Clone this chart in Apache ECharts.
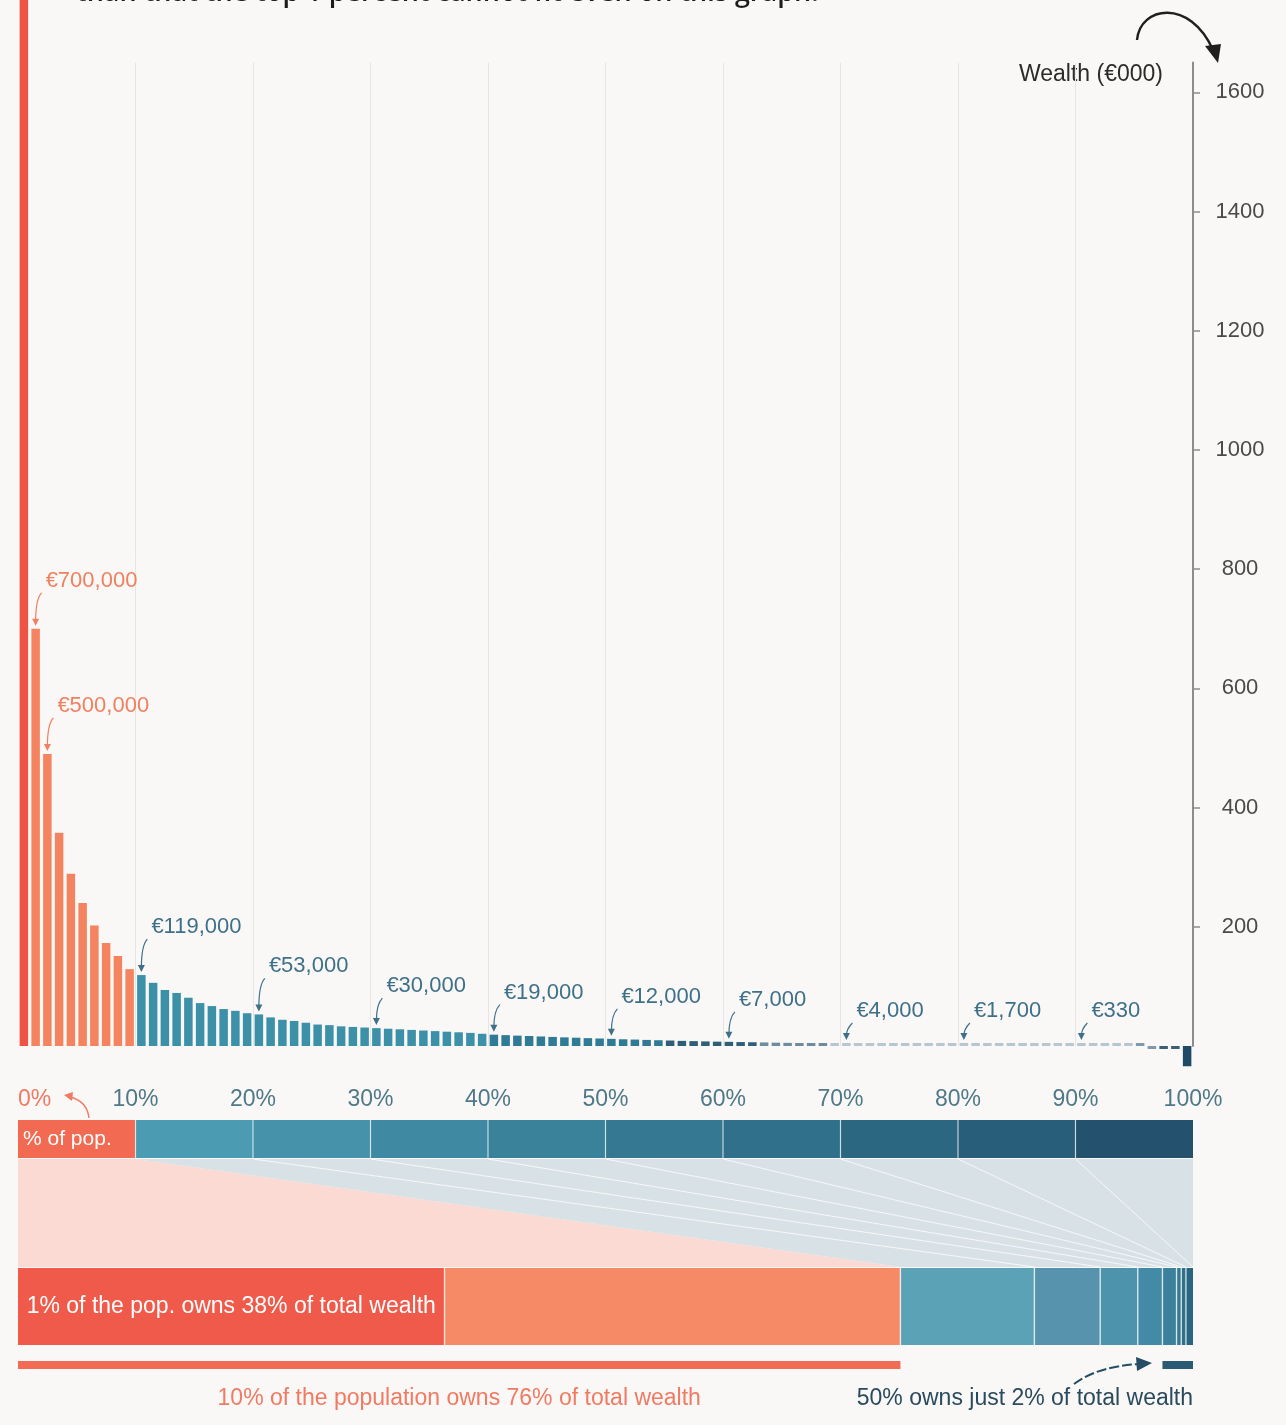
<!DOCTYPE html>
<html>
<head>
<meta charset="utf-8">
<title>Wealth distribution by percentile</title>
<script src="https://cdn.jsdelivr.net/npm/echarts@6/dist/echarts.min.js"></script>
<style>
  html, body { margin: 0; padding: 0; background: #f9f8f6; }
  #chart { width: 1286px; height: 1425px; }
</style>
</head>
<body>
<div id="chart"></div>
<script>
// average net wealth of each percentile of the population, richest first (€000)
var wealth = [
  2730, 700, 490, 358, 289, 240, 202, 173, 151, 129,
  119, 106, 94, 89, 81, 72, 67, 62, 59, 55,
  53, 48, 44, 42, 39, 36, 35, 33, 32, 31,
  30, 29, 28, 27, 26, 25, 24, 23, 22, 20.5,
  19, 18.2, 17.4, 16.8, 16, 15.2, 14.5, 13.9, 13.2, 12.6,
  12, 11.3, 10.8, 10.2, 9.7, 9.2, 8.6, 8.2, 7.7, 7.3,
  7, 6.6, 6.3, 6, 5.6, 5.3, 5, 4.7, 4.4, 4.2,
  4, 3.7, 3.4, 3.1, 2.9, 2.6, 2.4, 2.2, 2, 1.85,
  1.7, 1.5, 1.4, 1.25, 1.1, 0.95, 0.85, 0.7, 0.6, 0.45,
  0.33, 0.25, 0.18, 0.12, 0.06, 0.03, -0.2, -0.6, -2, -34
];

// percentiles that carry a value label
var annotIdx = [1, 2, 10, 20, 30, 40, 50, 60, 70, 80, 90];
var annotText = ['€700,000', '€500,000', '€119,000', '€53,000', '€30,000', '€19,000',
  '€12,000', '€7,000', '€4,000', '€1,700', '€330'];

// y axis ticks (€000)
var yTicks = [200, 400, 600, 800, 1000, 1200, 1400, 1600];

// population deciles (% of pop.)
var popEdges = [0, 10, 20, 30, 40, 50, 60, 70, 80, 90, 100];

// share of total wealth held by each group (% of wealth)
var wealthGroups = ['top 1%', '1-10%', '10-20%', '20-30%', '30-40%', '40-50%', '50-60%', '60-70%', '70-80%', '80-90%'];
var wealthGroupEnd = [1, 10, 20, 30, 40, 50, 60, 70, 80, 90];
var wealthShare = [36.3, 38.8, 11.4, 5.6, 3.2, 2.1, 1.2, 0.4, 0.4, 0.6];

var FONT = "'Liberation Sans Narrow', 'Liberation Sans', Arial, sans-serif";

var popColors = ['#f26a52', '#4b9bb2', '#4592aa', '#3f89a2', '#3a819a', '#357892', '#30708a', '#2c6782', '#285e79', '#24526e'];
var wealthColors = ['#ef5a4b', '#f68a67', '#5ba2b7', '#5893ae', '#4d93ac', '#438aa4', '#3c819b', '#357892', '#30708a', '#2a6682'];

// cumulative wealth share, by population boundary
var cumWealth = {0: 0};
(function () {
  var s = 0;
  for (var i = 0; i < wealthShare.length; i++) {
    s += wealthShare[i];
    cumWealth[wealthGroupEnd[i]] = s;
  }
  cumWealth[100] = 100;
})();

function barColor(i) {
  if (i === 0) return '#ee5344';
  if (i < 10) return '#f4845f';
  if (i < 40) return '#3c90a8';
  if (i < 55) return '#2f7b96';
  if (i < 63) return '#2f5f78';
  if (i < 69) return '#6d8d9f';
  if (i < 95) return '#b6c7cf';
  if (i < 97) return '#7f9aaa';
  if (i < 99) return '#3a5f77';
  return '#1e4a66';
}

var chart = echarts.init(document.getElementById('chart'));

var option = {
  backgroundColor: '#f9f8f6',
  animation: false,
  grid: [
    { left: 18, right: 93, top: 62.6, bottom: 379 },
    { left: 18, right: 93, top: 1120, height: 250 }
  ],
  xAxis: [{
    type: 'value', min: 0, max: 100, interval: 10,
    axisLine: { show: false, onZero: false },
    axisTick: { show: false },
    axisLabel: {
      margin: 42,
      formatter: '{value}%',
      fontFamily: FONT,
      fontSize: 23,
      alignMinLabel: 'left',
      color: function (v) { return +v === 0 ? '#f07a62' : '#4f7888'; }
    },
    splitLine: { show: true, showMinLine: false, showMaxLine: false, lineStyle: { color: '#e5e5e3', width: 1 } }
  }, {
    gridIndex: 1, type: 'value', min: 0, max: 100, show: false
  }],
  yAxis: [{
    type: 'value', position: 'right', min: 0, max: 1650,
    axisLine: { show: true, onZero: false, lineStyle: { color: '#8c8c8c', width: 2 } },
    axisTick: { show: true, length: 7, customValues: yTicks, lineStyle: { color: '#8c8c8c', width: 1.5 } },
    axisLabel: {
      customValues: yTicks, margin: 47, align: 'center', color: '#4a4a4a', fontSize: 22, fontFamily: FONT,
      formatter: function (v) { return String(v); }
    },
    splitLine: { show: false }
  }, {
    gridIndex: 1, type: 'value', min: 0, max: 250, inverse: true, show: false
  }],
  graphic: [
    {
      type: 'text', left: 76, top: -20,
      style: { text: 'than that the top 1 percent cannot fit even on this graph.', fill: '#1c1c1c', font: '600 27px "Open Sans", sans-serif' }
    },
    {
      type: 'text', right: 1286 - 1163, top: 63,
      style: { text: 'Wealth (€000)', fill: '#2b2b2b', font: '23px ' + FONT }
    },
    {
      type: 'bezierCurve',
      shape: { x1: 1137, y1: 40, cpx1: 1140, cpy1: 6, cpx2: 1190, cpy2: -2, x2: 1213, y2: 50 },
      style: { fill: 'none', stroke: '#1f1f1f', lineWidth: 2.4 }
    },
    {
      type: 'polygon',
      shape: { points: [[1205, 46], [1221, 44], [1218, 63]] },
      style: { fill: '#1f1f1f' }
    },
    {
      type: 'bezierCurve',
      shape: { x1: 89, y1: 1118, cpx1: 87, cpy1: 1101, x2: 70, y2: 1097 },
      style: { fill: 'none', stroke: '#f07a62', lineWidth: 1.4 }
    },
    {
      type: 'polygon',
      shape: { points: [[64, 1095], [73, 1092], [72, 1101]] },
      style: { fill: '#f07a62' }
    },
    {
      type: 'bezierCurve',
      shape: { x1: 1074, y1: 1384, cpx1: 1098, cpy1: 1366, x2: 1140, y2: 1364 },
      style: { fill: 'none', stroke: '#244d66', lineWidth: 2, lineDash: [10, 3] }
    },
    {
      type: 'polygon',
      shape: { points: [[1136, 1357], [1152, 1363], [1137, 1371]] },
      style: { fill: '#244d66' }
    }
  ],
  series: [
    {
      type: 'bar',
      xAxisIndex: 0, yAxisIndex: 0,
      barWidth: 8.5,
      barMinHeight: 3,
      clip: false,
      silent: true,
      data: wealth.map(function (v, i) {
        return { value: [i + 0.5, v], itemStyle: { color: barColor(i) } };
      })
    },
    {
      // value labels with small arrows
      type: 'custom',
      xAxisIndex: 0, yAxisIndex: 0,
      silent: true,
      data: annotIdx.map(function (idx, k) { return [idx + 0.5, wealth[idx], k, idx]; }),
      renderItem: function (params, api) {
        var v = api.value(1);
        var k = api.value(2);
        var idx = api.value(3);
        var base = api.coord([0, 0])[1];
        var p = api.coord([api.value(0), Math.max(v, 0)]);
        var x = p[0];
        var top = Math.min(p[1], base - 3);
        var lift = v >= 50 ? 48 : (v >= 6 ? 42 : 32);
        var ty = top - lift;
        var color = idx < 10 ? '#f0805f' : '#3f7089';
        return {
          type: 'group',
          children: [
            {
              type: 'text',
              style: { x: x + 10, y: ty, text: annotText[k], fill: color, font: '22px ' + FONT, textAlign: 'left', textVerticalAlign: 'middle' }
            },
            {
              type: 'path',
              shape: { pathData: 'M' + (x + 6) + ',' + (ty + 12) + ' Q' + x + ',' + (ty + 18) + ' ' + x + ',' + (top - 7) },
              style: { fill: 'none', stroke: color, lineWidth: 1.2 }
            },
            {
              type: 'polygon',
              shape: { points: [[x - 3.5, top - 10], [x + 3.5, top - 10], [x, top - 3]] },
              style: { fill: color }
            }
          ]
        };
      }
    },
    {
      // % of pop. strip
      type: 'custom',
      xAxisIndex: 1, yAxisIndex: 1,
      silent: true,
      data: popEdges.slice(0, 10).map(function (s, k) { return [s, popEdges[k + 1], k]; }),
      renderItem: function (params, api) {
        var k = api.value(2);
        var p0 = api.coord([api.value(0), 0]);
        var p1 = api.coord([api.value(1), 38]);
        var children = [{
          type: 'rect',
          shape: { x: p0[0], y: p0[1], width: p1[0] - p0[0], height: p1[1] - p0[1] },
          style: { fill: popColors[k] }
        }];
        if (k > 0) {
          children.push({
            type: 'line',
            shape: { x1: p0[0], y1: p0[1], x2: p0[0], y2: p1[1] },
            style: { stroke: 'rgba(255,255,255,0.7)', lineWidth: 1.2 }
          });
        } else {
          children.push({
            type: 'text',
            style: { x: p0[0] + 5, y: (p0[1] + p1[1]) / 2, text: '% of pop.', fill: '#ffffff', font: '21px ' + FONT, textVerticalAlign: 'middle' }
          });
        }
        return { type: 'group', children: children };
      }
    },
    {
      // fan linking population to wealth
      type: 'custom',
      xAxisIndex: 1, yAxisIndex: 1,
      silent: true,
      data: [[0, 10, 0], [10, 100, 1]],
      renderItem: function (params, api) {
        var a = api.value(0), b = api.value(1);
        return {
          type: 'polygon',
          shape: {
            points: [
              api.coord([a, 39]), api.coord([b, 39]),
              api.coord([cumWealth[b], 147]), api.coord([cumWealth[a], 147])
            ]
          },
          style: { fill: api.value(2) === 0 ? '#fbdad3' : '#d8e2e6' }
        };
      }
    },
    {
      type: 'custom',
      xAxisIndex: 1, yAxisIndex: 1,
      silent: true,
      data: popEdges.slice(2, 10),
      renderItem: function (params, api) {
        var d = api.value(0);
        var t = api.coord([d, 39]);
        var b = api.coord([cumWealth[d], 147]);
        return {
          type: 'line',
          shape: { x1: t[0], y1: t[1], x2: b[0], y2: b[1] },
          style: { stroke: 'rgba(255,255,255,0.75)', lineWidth: 1 }
        };
      }
    },
    {
      // share of wealth strip
      type: 'custom',
      xAxisIndex: 1, yAxisIndex: 1,
      silent: true,
      data: wealthShare.map(function (s, k) {
        var start = k === 0 ? 0 : cumWealth[wealthGroupEnd[k - 1]];
        return [start, cumWealth[wealthGroupEnd[k]], k];
      }),
      renderItem: function (params, api) {
        var k = api.value(2);
        var p0 = api.coord([api.value(0), 148]);
        var p1 = api.coord([api.value(1), 225]);
        var children = [{
          type: 'rect',
          shape: { x: p0[0], y: p0[1], width: p1[0] - p0[0], height: p1[1] - p0[1] },
          style: { fill: wealthColors[k] }
        }];
        if (k > 0) {
          children.push({
            type: 'line',
            shape: { x1: p0[0], y1: p0[1], x2: p0[0], y2: p1[1] },
            style: { stroke: 'rgba(255,255,255,0.75)', lineWidth: 1.4 }
          });
        } else {
          children.push({
            type: 'text',
            style: { x: (p0[0] + p1[0]) / 2, y: (p0[1] + p1[1]) / 2, text: '1% of the pop. owns 38% of total wealth', fill: '#ffffff', font: '23px ' + FONT, textAlign: 'center', textVerticalAlign: 'middle' }
          });
        }
        return { type: 'group', children: children };
      }
    },
    {
      // summary bars and their captions
      type: 'custom',
      xAxisIndex: 1, yAxisIndex: 1,
      silent: true,
      data: [[0, cumWealth[10], 0], [cumWealth[50], 100, 1]],
      renderItem: function (params, api) {
        var k = api.value(2);
        var p0 = api.coord([api.value(0), 241]);
        var p1 = api.coord([api.value(1), 249]);
        var color = k === 0 ? '#f26b55' : '#2b5a73';
        var cap = k === 0
          ? { x: (p0[0] + p1[0]) / 2, text: '10% of the population owns 76% of total wealth', fill: '#f07a62', textAlign: 'center' }
          : { x: p1[0], text: '50% owns just 2% of total wealth', fill: '#2a4a5e', textAlign: 'right' };
        return {
          type: 'group',
          children: [
            {
              type: 'rect',
              shape: { x: p0[0], y: p0[1], width: p1[0] - p0[0], height: p1[1] - p0[1] },
              style: { fill: color }
            },
            {
              type: 'text',
              style: {
                x: cap.x, y: api.coord([0, 279])[1], text: cap.text, fill: cap.fill,
                font: '23px ' + FONT, textAlign: cap.textAlign, textVerticalAlign: 'middle'
              }
            }
          ]
        };
      }
    }
  ]
};

chart.setOption(option);
</script>
</body>
</html>
